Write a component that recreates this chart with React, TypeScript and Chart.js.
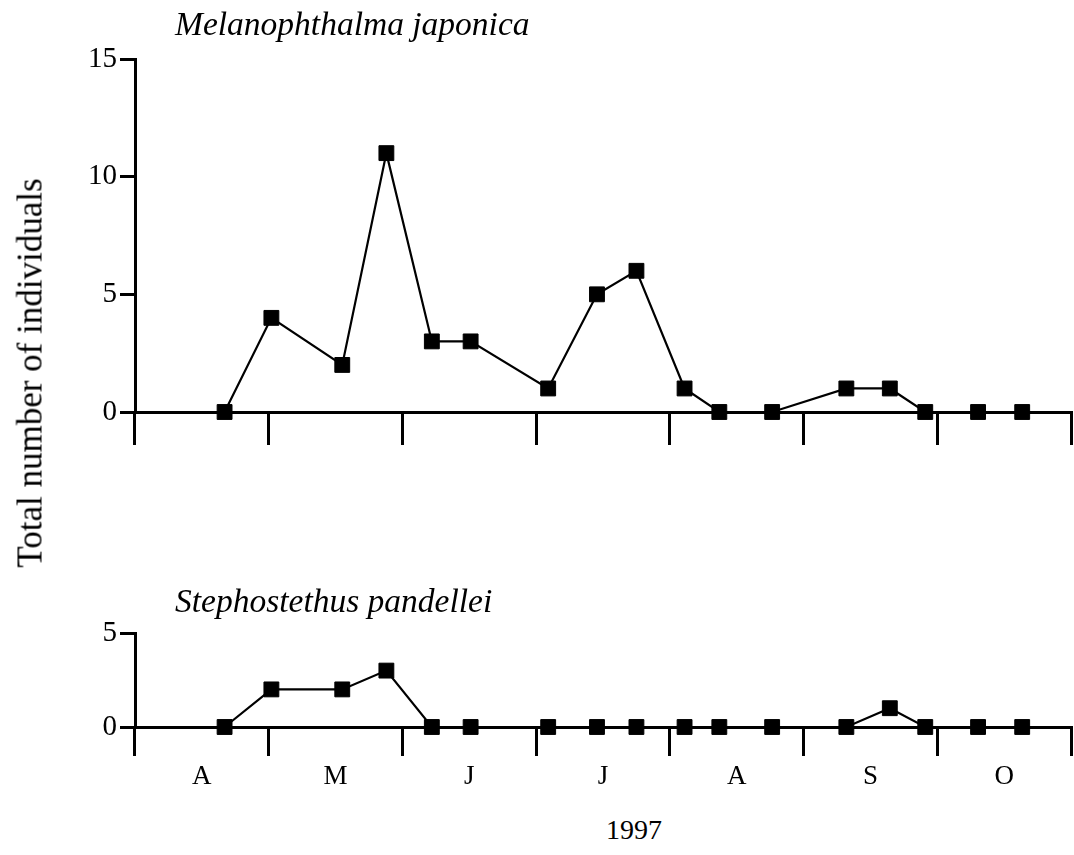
import React, { useEffect, useRef } from "react";
import { Chart, registerables } from "chart.js";

Chart.register(...registerables);

// Month bins along the x axis (April – October 1997)
const monthLabels = ["A", "M", "J", "J", "A", "S", "O"];
// Sampling dates, in months after 1 April 1997
const samplePositions = [
  0.67, 1.02, 1.55, 1.88, 2.22, 2.51, 3.09, 3.455, 3.75, 4.11, 4.37, 4.765,
  5.32, 5.645, 5.91, 6.305, 6.635,
];
// Total number of individuals per sample
const melanophthalmaValues = [0, 4, 2, 11, 3, 3, 1, 5, 6, 1, 0, 0, 1, 1, 0, 0, 0];
const stephostethusValues = [0, 2, 2, 3, 0, 0, 0, 0, 0, 0, 0, 0, 0, 1, 0, 0, 0];
// Y axis ranges
const topYMax = 15;
const bottomYMax = 5;
const yStep = 5;

const FONT = "'Liberation Serif', 'Times New Roman', Times, serif";

type PanelOpts = {
  values: number[];
  yMax: number;
  width: number;
  height: number;
  padTop: number;
  axisHeight: number;
  tickLen: number;
  showMonthLabels: boolean;
  labelPadding: number;
};

function makeConfig(o: PanelOpts): any {
  return {
    type: "line",
    data: {
      labels: monthLabels,
      datasets: [
        {
          data: samplePositions.map((x, i) => ({ x, y: o.values[i] })),
          xAxisID: "x",
          yAxisID: "y",
          borderColor: "#000",
          borderWidth: 2.2,
          tension: 0,
          pointStyle: "rect",
          pointRadius: 10.5,
          pointBackgroundColor: "#000",
          pointBorderColor: "#000",
          pointBorderWidth: 1,
          clip: false,
        },
      ],
    },
    options: {
      responsive: false,
      animation: false,
      devicePixelRatio: 1,
      layout: {
        autoPadding: false,
        padding: { top: o.padTop, right: 3, left: 0, bottom: 0 },
      },
      plugins: { legend: { display: false }, tooltip: { enabled: false } },
      scales: {
        x: {
          type: "linear",
          min: 0,
          max: monthLabels.length,
          display: false,
        },
        months: {
          type: "category",
          position: "bottom",
          labels: monthLabels,
          offset: true,
          grid: {
            offset: true,
            drawOnChartArea: false,
            drawTicks: true,
            tickLength: o.tickLen,
            tickWidth: 3,
            tickColor: "#000",
            lineWidth: 3,
            color: "#000",
          },
          border: { display: true, color: "#000", width: 3 },
          ticks: {
            color: o.showMonthLabels ? "#000" : "rgba(0,0,0,0)",
            font: { family: FONT, size: 27 },
            padding: o.labelPadding,
            maxRotation: 0,
            autoSkip: false,
          },
          afterFit: (s: any) => {
            s.height = o.axisHeight;
            s.paddingLeft = 0;
            s.paddingRight = 0;
          },
        },
        y: {
          type: "linear",
          min: 0,
          max: o.yMax,
          ticks: {
            stepSize: yStep,
            color: "#000",
            font: { family: FONT, size: 29 },
            padding: 3,
          },
          grid: {
            drawOnChartArea: false,
            drawTicks: true,
            tickLength: 15,
            tickWidth: 3,
            tickColor: "#000",
            lineWidth: 3,
            color: "#000",
          },
          border: { display: true, color: "#000", width: 3 },
          afterFit: (s: any) => {
            s.width = 135;
          },
        },
      },
    },
  };
}

function Panel(props: PanelOpts & { top: number }) {
  const ref = useRef<HTMLCanvasElement>(null);
  useEffect(() => {
    if (!ref.current) return;
    const chart = new Chart(ref.current, makeConfig(props));
    return () => chart.destroy();
  }, []);
  return (
    <canvas
      ref={ref}
      width={props.width}
      height={props.height}
      style={{
        position: "absolute",
        left: 0,
        top: props.top,
        width: props.width,
        height: props.height,
      }}
    />
  );
}

const textBase: React.CSSProperties = {
  position: "absolute",
  fontFamily: FONT,
  color: "#000",
  whiteSpace: "nowrap",
  lineHeight: 1,
};

export default function App() {
  return (
    <div
      style={{
        position: "fixed",
        left: 0,
        top: 0,
        width: 1074,
        height: 855,
        background: "#fff",
        overflow: "hidden",
      }}
    >
      <Panel
        top={0}
        width={1074}
        height={460}
        padTop={59}
        axisHeight={48}
        tickLen={33}
        values={melanophthalmaValues}
        yMax={topYMax}
        showMonthLabels={false}
        labelPadding={3}
      />
      <Panel
        top={560}
        width={1074}
        height={240}
        padTop={73}
        axisHeight={73}
        tickLen={29}
        values={stephostethusValues}
        yMax={bottomYMax}
        showMonthLabels={true}
        labelPadding={5}
      />
      <div style={{ ...textBase, left: 175, top: 7, fontSize: 33.5, fontStyle: "italic" }}>
        Melanophthalma japonica
      </div>
      <div style={{ ...textBase, left: 175, top: 584, fontSize: 33.5, fontStyle: "italic" }}>
        Stephostethus pandellei
      </div>
      <div
        style={{
          ...textBase,
          left: 634,
          top: 816,
          fontSize: 28,
          transform: "translateX(-50%)",
        }}
      >
        1997
      </div>
      <div
        style={{
          ...textBase,
          left: 30,
          top: 373,
          fontSize: 35,
          transform: "translate(-50%, -50%) rotate(-90deg)",
        }}
      >
        Total number of individuals
      </div>
    </div>
  );
}
